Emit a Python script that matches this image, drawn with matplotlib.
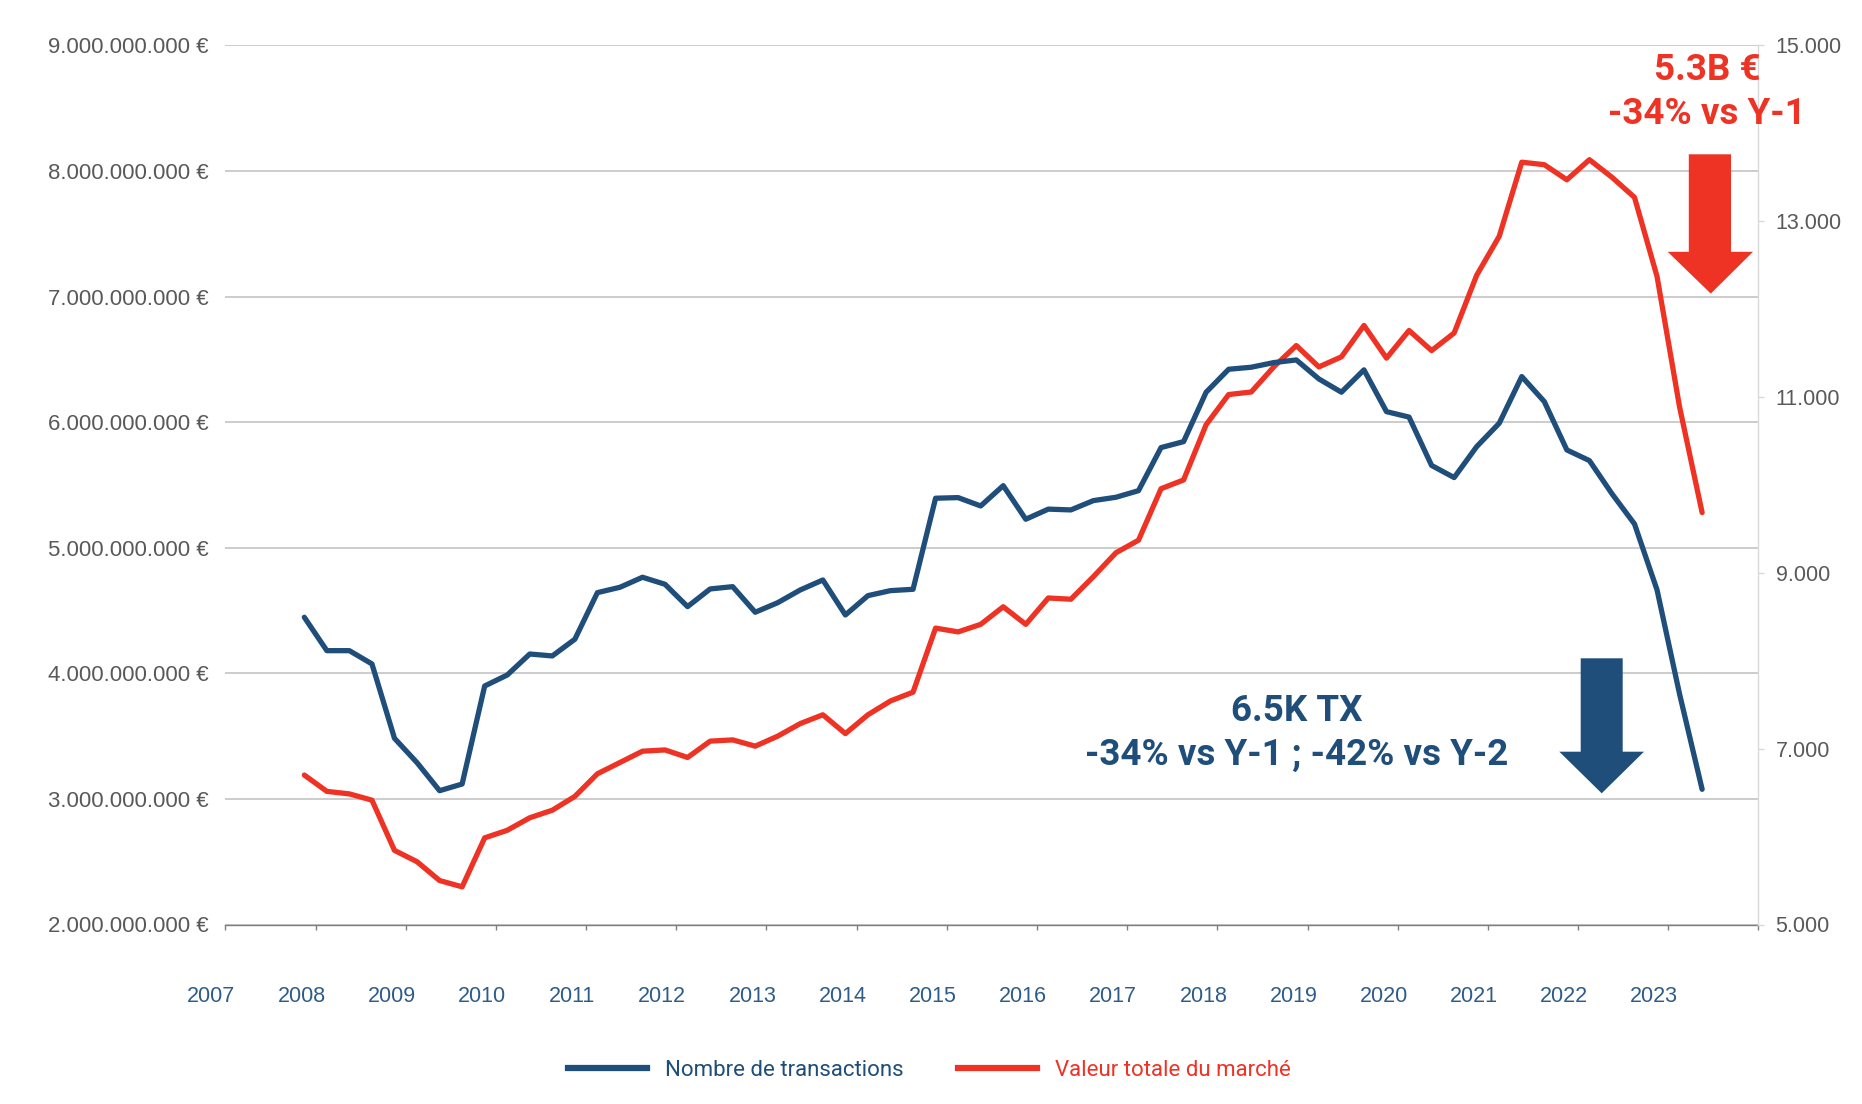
import matplotlib
matplotlib.use("Agg")
import matplotlib.pyplot as plt
import matplotlib.transforms as mtransforms
from matplotlib.lines import Line2D
from matplotlib.patches import Polygon
from matplotlib.ticker import FuncFormatter
import numpy as np

# ---------------- data ----------------
quarters = [f"{y}-Q{q}" for y in range(2007, 2024) for q in range(1, 5)][3:3 + 63]  # 2007-Q4 .. 2023-Q2

transactions = [
    8495, 8115, 8115, 7964, 7118, 6841, 6522, 6598, 7713, 7838,
    8077, 8055, 8245, 8775, 8836, 8950, 8870, 8616, 8817, 8843,
    8552, 8661, 8806, 8919, 8521, 8741, 8798, 8813, 9849, 9856,
    9761, 9992, 9610, 9725, 9716, 9822, 9860, 9935, 10425, 10493,
    11055, 11316, 11339, 11392, 11422, 11206, 11055, 11309, 10834, 10772,
    10222, 10084, 10436, 10702, 11233, 10948, 10398, 10277, 9900, 9556,
    8806, 7620, 6538,
]

market_value_bn = [
    3.19, 3.06, 3.04, 2.99, 2.59, 2.50, 2.35, 2.30, 2.69, 2.75,
    2.85, 2.91, 3.02, 3.20, 3.29, 3.38, 3.39, 3.33, 3.46, 3.47,
    3.42, 3.50, 3.60, 3.67, 3.52, 3.67, 3.78, 3.85, 4.36, 4.33,
    4.39, 4.53, 4.39, 4.60, 4.59, 4.77, 4.96, 5.06, 5.47, 5.54,
    5.98, 6.22, 6.24, 6.44, 6.61, 6.44, 6.52, 6.77, 6.51, 6.73,
    6.57, 6.71, 7.17, 7.48, 8.07, 8.05, 7.93, 8.09, 7.95, 7.79,
    7.16, 6.12, 5.28,
]

year_labels = [str(y) for y in range(2007, 2024)]
left_ticks = [2e9, 3e9, 4e9, 5e9, 6e9, 7e9, 8e9, 9e9]
right_ticks = [5000, 7000, 9000, 11000, 13000, 15000]

series_names = ["Nombre de transactions", "Valeur totale du marché"]
annot_red = ["5.3B €", "-34% vs Y-1"]
annot_blue = ["6.5K TX", "-34% vs Y-1 ; -42% vs Y-2"]

# ---------------- style ----------------
BLUE = "#1f4e7a"
RED = "#ee3224"
GRID = "#c4c4c4"
LABEL_GREY = "#595959"
XLABEL = "#2e5c8a"

W, H = 1862, 1104
fig = plt.figure(figsize=(W / 100, H / 100), dpi=100)
fig.patch.set_facecolor("white")

L, R, T, B = 225.4, 1758.5, 45.4, 924.5
ax = fig.add_axes([L / W, 1 - B / H, (R - L) / W, (B - T) / H])
ax2 = ax.twinx()

def qpos(label):
    y, q = label.split("-Q")
    return int(y) + (int(q) - 0.5) / 4.0

x = np.array([qpos(q) for q in quarters])
values_eur = np.array(market_value_bn) * 1e9

ax.plot(x, values_eur, color=RED, lw=3.8, solid_capstyle="round", zorder=3)
ax2.plot(x, transactions, color=BLUE, lw=3.8, solid_capstyle="round", zorder=3)

ax.set_xlim(2007, 2024)
ax.set_ylim(2e9, 9e9)
ax2.set_ylim(5000, 15000)

# grid
ax.set_yticks(left_ticks)
ax.yaxis.grid(True, color=GRID, lw=1.2)
ax.set_axisbelow(True)

fmt_left = FuncFormatter(lambda v, p: f"{int(round(v)):,}".replace(",", ".") + " €")
fmt_right = FuncFormatter(lambda v, p: f"{int(round(v)):,}".replace(",", "."))
ax.yaxis.set_major_formatter(fmt_left)
ax2.set_yticks(right_ticks)
ax2.yaxis.set_major_formatter(fmt_right)

tick_font = "Liberation Sans"
ax.tick_params(axis="y", length=0, pad=12, labelsize=16, labelcolor=LABEL_GREY)
ax2.tick_params(axis="y", length=4.3, width=1, color="#d9d9d9", pad=8,
                labelsize=15.5, labelcolor=LABEL_GREY)
for lab in ax.get_yticklabels() + ax2.get_yticklabels():
    lab.set_family(tick_font)

# x axis
ax.set_xticks(np.arange(2007, 2025))
ax.set_xticklabels(year_labels + [""])
ax.tick_params(axis="x", length=3.6, width=1, color="#7f7f7f", pad=41,
               labelsize=15.5, labelcolor=XLABEL)
offset = mtransforms.ScaledTranslation(-14 / 100, 0, fig.dpi_scale_trans)
for lab in ax.get_xticklabels():
    lab.set_family(tick_font)
    lab.set_transform(lab.get_transform() + offset)

for s in ["top", "left", "right"]:
    ax.spines[s].set_visible(False)
ax.spines["bottom"].set_color("#7f7f7f")
ax.spines["bottom"].set_linewidth(1)
for s in ["top", "left", "bottom"]:
    ax2.spines[s].set_visible(False)
ax2.spines["right"].set_color("#d9d9d9")
ax2.spines["right"].set_linewidth(1)

# legend
handles = [Line2D([0], [0], color=BLUE, lw=4.5), Line2D([0], [0], color=RED, lw=4.5)]
leg = fig.legend(handles, series_names, loc="center", bbox_to_anchor=(0.499, 1 - 1070 / H),
                 ncol=2, frameon=False, handlelength=3.55, handletextpad=0.8,
                 columnspacing=2.46, prop={"family": "Roboto", "size": 16})
for t, c in zip(leg.get_texts(), [BLUE, RED]):
    t.set_color(c)

# annotations (one text per line)
def two_lines(cx, y1, y2, lines, color):
    fig.text(cx / W, 1 - y1 / H, lines[0], ha="center", va="center", color=color,
             family="Roboto", weight="bold", fontsize=26.5)
    fig.text(cx / W, 1 - y2 / H, lines[1], ha="center", va="center", color=color,
             family="Roboto", weight="bold", fontsize=26.5)

two_lines(1707, 70, 114.5, annot_red, RED)
two_lines(1296.7, 711, 755, annot_blue, BLUE)

def arrow(shaft_l, shaft_r, top, head_y, head_l, head_r, tip_x, tip_y, color):
    pts = [(shaft_l, top), (shaft_r, top), (shaft_r, head_y), (head_r, head_y),
           (tip_x, tip_y), (head_l, head_y), (shaft_l, head_y)]
    pts = [(px / W, 1 - py / H) for px, py in pts]
    fig.patches.append(Polygon(pts, closed=True, transform=fig.transFigure,
                               facecolor=color, edgecolor="none", zorder=5))

arrow(1688.8, 1731, 154.3, 251.8, 1667.7, 1753, 1710.8, 293.6, RED)
arrow(1580.7, 1622.7, 658.3, 751.7, 1559.3, 1644, 1601.7, 793.3, BLUE)

fig.savefig("out.png", dpi=100, facecolor="white")
